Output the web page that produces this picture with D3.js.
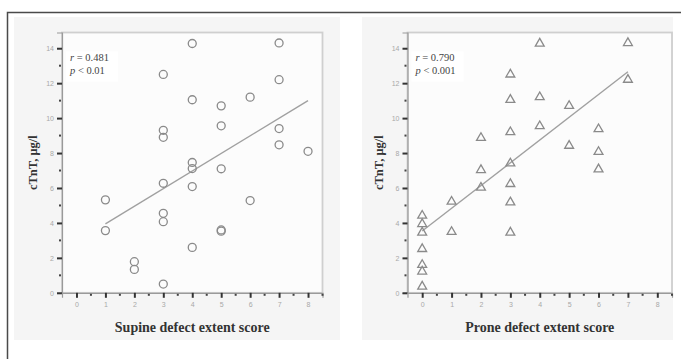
<!DOCTYPE html>
<html>
<head>
<meta charset="utf-8">
<script src="https://cdn.jsdelivr.net/npm/d3@7"></script>
<style>
  body { margin: 0; background: #fff; }
  .tick-label { font-family: "Liberation Sans", Arial, sans-serif; font-size: 7px; fill: #a8a8a8; }
  .axis-title { font-family: "Liberation Serif", "Times New Roman", serif; font-weight: bold; fill: #333; }
  .stat { font-family: "Liberation Serif", "Times New Roman", serif; font-size: 10.5px; fill: #444; }
</style>
</head>
<body>
<div id="chart"></div>
<script>
// data
const supineScore = [4, 7, 3, 7, 4, 6, 5, 5, 7, 3, 3, 7, 8, 4, 4, 5, 3, 4, 1, 6, 3, 3, 1, 5, 5, 4, 2, 2, 3]
const supineTnT = [14.27, 14.3, 12.5, 12.2, 11.05, 11.2, 10.7, 9.56, 9.4, 9.3, 8.9, 8.47, 8.1, 7.46, 7.11, 7.1, 6.27, 6.08, 5.32, 5.28, 4.55, 4.07, 3.56, 3.6, 3.53, 2.6, 1.78, 1.34, 0.5]
const proneScore = [4, 7, 3, 7, 3, 4, 5, 4, 6, 3, 2, 5, 6, 3, 2, 6, 3, 2, 1, 3, 0, 0, 0, 1, 3, 0, 0, 0, 0]
const proneTnT = [14.27, 14.3, 12.5, 12.2, 11.05, 11.2, 10.7, 9.54, 9.37, 9.2, 8.87, 8.42, 8.07, 7.41, 7.03, 7.07, 6.23, 6.02, 5.22, 5.18, 4.42, 3.94, 3.45, 3.49, 3.45, 2.51, 1.6, 1.22, 0.36]
const supineFit = [[1, 3.94], [8, 11.0]]
const proneFit = [[0, 3.54], [7, 12.65]]
const xTicks = [0, 1, 2, 3, 4, 5, 6, 7, 8]
const xMinor = [0.5, 1.5, 2.5, 3.5, 4.5, 5.5, 6.5, 7.5, 8.5]
const yTicks = [0, 2, 4, 6, 8, 10, 12, 14]
const yMinor = [1, 3, 5, 7, 9, 11, 13]

const width = 681
const height = 359

const svg = d3.select("#chart")
  .append("svg")
    .attr("width", width)
    .attr("height", height)

// outer frame (left + top edge only visible)
svg.append("path")
  .attr("d", "M7.5,359 L7.5,12.5 L681,12.5")
  .attr("fill", "none")
  .attr("stroke", "#4a4a4a")
  .attr("stroke-width", 1.5)

function drawPanel(opts) {
  const { xs, ys, fit, marker, bgX0, bgX1, left, right, title, r, p } = opts
  const top = 32.5
  const bottom = 292.8

  svg.append("rect")
    .attr("x", bgX0).attr("y", 17)
    .attr("width", bgX1 - bgX0).attr("height", 323)
    .attr("fill", "#f5f5f5")

  const xScale = d3.scaleLinear().domain([-0.5, 8.5]).range([left, right])
  const yScale = d3.scaleLinear().domain([0, 14.9]).range([bottom, top])

  // plot area
  svg.append("rect")
    .attr("x", left).attr("y", top)
    .attr("width", right - left).attr("height", bottom - top)
    .attr("fill", "#fcfcfc")
    .attr("stroke", "#cfcfcf")
    .attr("stroke-width", 1.8)

  // stats box
  svg.append("rect")
    .attr("x", left + 4).attr("y", top + 19)
    .attr("width", 52).attr("height", 30)
    .attr("fill", "#ffffff")
  const stat = svg.append("text").attr("class", "stat")
    .attr("x", left + 8).attr("y", top + 28)
  stat.append("tspan").style("font-style", "italic").text("r")
  stat.append("tspan").text(" = " + r)
  const stat2 = svg.append("text").attr("class", "stat")
    .attr("x", left + 8).attr("y", top + 41)
  stat2.append("tspan").style("font-style", "italic").text("p")
  stat2.append("tspan").text(" < " + p)

  // y axis
  const yAxis = svg.append("g")
    .attr("transform", `translate(${left},0)`)
    .call(d3.axisLeft(yScale).tickValues(yTicks).tickSize(5).tickPadding(3))
  yAxis.select(".domain").attr("stroke", "#9a9a9a").attr("stroke-width", 1.2)
  yAxis.selectAll(".tick line").attr("stroke", "#333").attr("stroke-width", 2)
  yAxis.selectAll(".tick text").attr("class", "tick-label").attr("font-size", null).attr("font-family", null).attr("fill", null)
  svg.append("g").selectAll("rect")
    .data(yMinor)
    .join("rect")
      .attr("x", left - 3).attr("y", d => yScale(d) - 1)
      .attr("width", 2).attr("height", 2)
      .attr("fill", "#444")

  // x axis
  const xAxis = svg.append("g")
    .attr("transform", `translate(0,${bottom})`)
    .call(d3.axisBottom(xScale).tickValues(xTicks).tickSize(5).tickPadding(4))
  xAxis.select(".domain").attr("stroke", "#9a9a9a").attr("stroke-width", 1.2)
  xAxis.selectAll(".tick line").attr("stroke", "#333").attr("stroke-width", 2)
  xAxis.selectAll(".tick text").attr("class", "tick-label").attr("font-size", null).attr("font-family", null).attr("fill", null)
  svg.append("g").selectAll("rect")
    .data(xMinor)
    .join("rect")
      .attr("x", d => xScale(d) - 1).attr("y", bottom + 1)
      .attr("width", 2).attr("height", 2)
      .attr("fill", "#444")

  // regression line
  svg.append("path")
    .attr("d", d3.line().x(d => xScale(d[0])).y(d => yScale(d[1]))(fit))
    .attr("fill", "none")
    .attr("stroke", "#a0a0a0")
    .attr("stroke-width", 1.4)

  // points
  const symbol = d3.symbol().type(marker === "circle" ? d3.symbolCircle : d3.symbolTriangle)
    .size(marker === "circle" ? 50 : 34)
  svg.append("g").selectAll("path")
    .data(d3.range(xs.length))
    .join("path")
      .attr("transform", i => `translate(${xScale(xs[i])},${yScale(ys[i])})`)
      .attr("d", symbol)
      .attr("fill", "none")
      .attr("stroke", "#8a8a8a")
      .attr("stroke-width", 1.3)

  // axis titles
  svg.append("text").attr("class", "axis-title")
    .attr("x", (left + right) / 2).attr("y", 332)
    .attr("text-anchor", "middle")
    .style("font-size", "14px")
    .text(title)
  svg.append("text").attr("class", "axis-title")
    .attr("transform", `translate(${left - 25},${(top + bottom) / 2}) rotate(-90)`)
    .attr("text-anchor", "middle")
    .style("font-size", "12.5px")
    .text("cTnT, μg/l")
}

drawPanel({
  xs: supineScore, ys: supineTnT, fit: supineFit, marker: "circle",
  bgX0: 14, bgX1: 340, left: 62, right: 322.5,
  title: "Supine defect extent score", r: "0.481", p: "0.01"
})
drawPanel({
  xs: proneScore, ys: proneTnT, fit: proneFit, marker: "triangle",
  bgX0: 362, bgX1: 673, left: 407.5, right: 672,
  title: "Prone defect extent score", r: "0.790", p: "0.001"
})
</script>
</body>
</html>
